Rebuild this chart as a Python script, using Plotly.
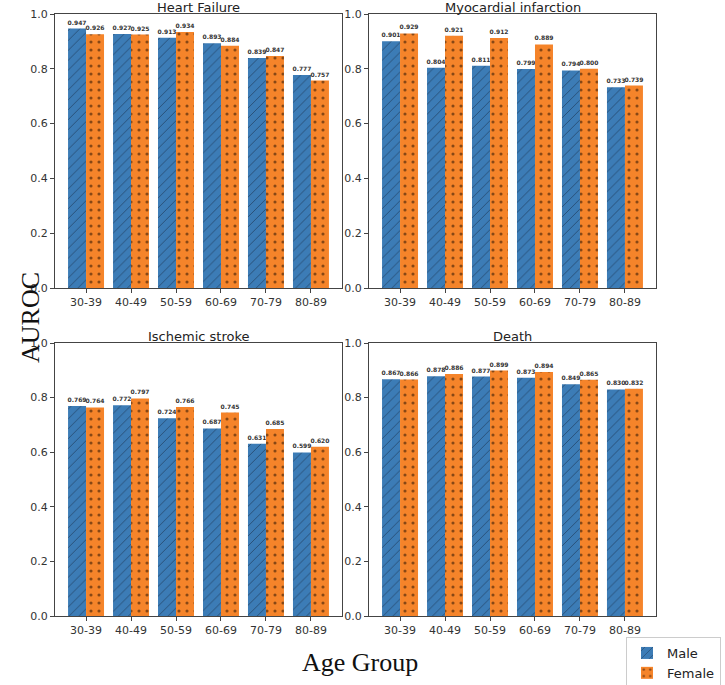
import plotly.graph_objects as go

age_groups = ["30-39", "40-49", "50-59", "60-69", "70-79", "80-89"]
titles = ["Heart Failure", "Myocardial infarction", "Ischemic stroke", "Death"]
male_hf = [0.947, 0.927, 0.913, 0.893, 0.839, 0.777]
female_hf = [0.926, 0.925, 0.934, 0.884, 0.847, 0.757]
male_mi = [0.901, 0.804, 0.811, 0.799, 0.794, 0.733]
female_mi = [0.929, 0.921, 0.912, 0.889, 0.800, 0.739]
male_is = [0.769, 0.772, 0.724, 0.687, 0.631, 0.599]
female_is = [0.764, 0.797, 0.766, 0.745, 0.685, 0.620]
male_death = [0.867, 0.878, 0.877, 0.873, 0.849, 0.830]
female_death = [0.866, 0.886, 0.899, 0.894, 0.865, 0.832]
y_ticks = [0.0, 0.2, 0.4, 0.6, 0.8, 1.0]

panels = [(male_hf, female_hf), (male_mi, female_mi), (male_is, female_is), (male_death, female_death)]

W, H = 725, 685
BLUE = "#3c7cb6"
ORANGE = "#f5842a"

xdoms = [(55 / W, 342 / W), (369 / W, 656 / W)]
ydoms = [(1 - 288 / H, 1 - 14 / H), (1 - 616 / H, 1 - 343 / H)]

fig = go.Figure()
xs = list(range(len(age_groups)))
for i, (m, f) in enumerate(panels):
    r, c = divmod(i, 2)
    ax = "" if i == 0 else str(i + 1)
    fig.add_trace(go.Bar(
        x=xs, y=m, name="Male", xaxis="x" + ax, yaxis="y" + ax,
        marker=dict(color=BLUE, line=dict(width=0),
                    pattern=dict(shape="/", fgcolor="#15243a", bgcolor=BLUE, size=7,
                                 solidity=0.14, fillmode="overlay")),
        text=[f"{v:.3f}" for v in m], textposition="outside", constraintext="none",
        textfont=dict(size=6, color="#333333", family="DejaVu Sans", weight="bold"), cliponaxis=False,
        showlegend=(i == 0), offsetgroup="m",
    ))
    fig.add_trace(go.Bar(
        x=xs, y=f, name="Female", xaxis="x" + ax, yaxis="y" + ax,
        marker=dict(color=ORANGE, line=dict(width=0),
                    pattern=dict(shape=".", fgcolor="#1a0a00", bgcolor=ORANGE, size=8,
                                 solidity=0.12, fillmode="overlay")),
        text=[f"{v:.3f}" for v in f], textposition="outside", constraintext="none",
        textfont=dict(size=6, color="#333333", family="DejaVu Sans", weight="bold"), cliponaxis=False,
        showlegend=(i == 0), offsetgroup="f",
    ))
    axis_common = dict(showline=True, linecolor="#444444", linewidth=1, mirror=True,
                       ticks="outside", ticklen=4, tickcolor="#444444", showgrid=False,
                       zeroline=False, automargin=False,
                       tickfont=dict(family="DejaVu Sans", size=11, color="#333333"))
    fig.update_layout(**{
        "xaxis" + ax: dict(domain=xdoms[c], anchor="y" + ax, range=[-0.69, 5.69],
                           tickvals=xs, ticktext=age_groups, **axis_common),
        "yaxis" + ax: dict(domain=ydoms[r], anchor="x" + ax, range=[0, 1],
                           tickvals=y_ticks, ticktext=[f"{v:.1f}" for v in y_ticks], **axis_common),
    })
    fig.add_annotation(text=titles[i], xref="paper", yref="paper",
                       x=(xdoms[c][0] + xdoms[c][1]) / 2, y=ydoms[r][1],
                       yshift=7, xanchor="center", yanchor="middle", showarrow=False,
                       font=dict(family="DejaVu Sans", size=13, color="#222222"))

fig.add_annotation(text="AUROC", xref="paper", yref="paper", x=30 / W, y=1 - 318 / H,
                   textangle=-90, showarrow=False, xanchor="center", yanchor="middle",
                   font=dict(family="Liberation Serif", size=26, color="#111111"))
fig.add_annotation(text="Age Group", xref="paper", yref="paper", x=360 / W, y=1 - 662 / H,
                   showarrow=False, xanchor="center", yanchor="middle",
                   font=dict(family="Liberation Serif", size=26, color="#111111"))

fig.update_layout(
    width=W, height=H, margin=dict(l=0, r=0, t=0, b=0, autoexpand=False),
    template="none",
    paper_bgcolor="white", plot_bgcolor="white",
    barmode="group", bargap=0.2, bargroupgap=0,
    legend=dict(x=721 / W, y=1 - 637 / H, xanchor="right", yanchor="top",
                bordercolor="#cccccc", borderwidth=1, bgcolor="white",
                font=dict(family="DejaVu Sans", size=13, color="#222222")),
)

fig.write_html("out.html", config={"displayModeBar": False},
               post_script="document.body.style.margin='0';")
